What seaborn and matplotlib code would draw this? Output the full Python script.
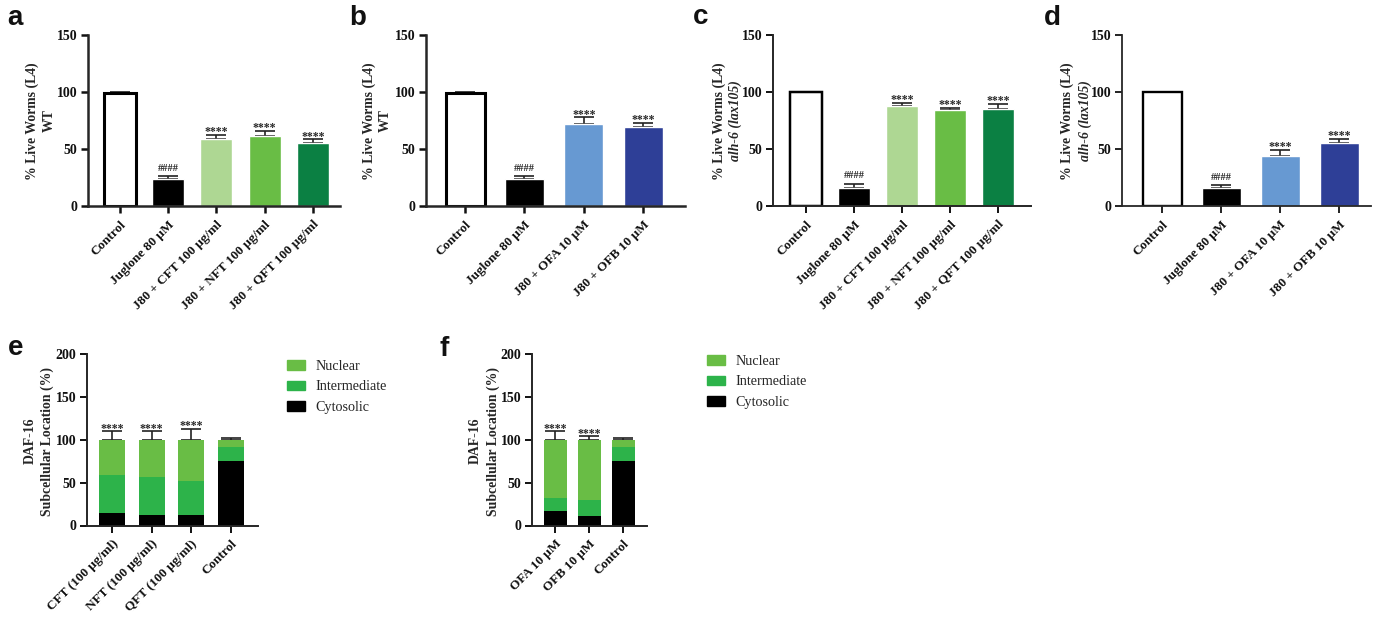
"""Worm survival bars and DAF-16 localisation stacks."""

import matplotlib

matplotlib.use("Agg")

import matplotlib.pyplot as plt
import pandas as pd
import seaborn as sns
from matplotlib.patches import Patch

W, H = 1384, 618

LIGHT_GREEN = "#aed793"
MID_GREEN = "#69bd45"
DARK_GREEN = "#0b8043"
LIGHT_BLUE = "#6799d2"
NAVY = "#2e3f97"
STACK_GREEN = "#2db34a"

green_labels = [
    "Control",
    "Juglone 80 µM",
    "J80 + CFT 100 µg/ml",
    "J80 + NFT 100 µg/ml",
    "J80 + QFT 100 µg/ml",
]
blue_labels = ["Control", "Juglone 80 µM", "J80 + OFA 10 µM", "J80 + OFB 10 µM"]
green_colors = ["white", "black", LIGHT_GREEN, MID_GREEN, DARK_GREEN]
blue_colors = ["white", "black", LIGHT_BLUE, NAVY]
green_marks = ["", "####", "****", "****", "****"]
blue_marks = ["", "####", "****", "****"]

a_values = [99, 24, 59, 61.5, 55]
a_tops = [100, 26, 62.5, 66, 58.5]
b_values = [99, 24, 72, 69]
b_tops = [100, 26, 78, 73]
c_values = [100, 16, 88, 84.5, 85.5]
c_tops = [100, 19.5, 90.5, 86, 89.5]
d_values = [100, 16, 44, 55]
d_tops = [100, 18, 49.5, 59]

e_labels = ["CFT (100 µg/ml)", "NFT (100 µg/ml)", "QFT (100 µg/ml)", "Control"]
e_cytosolic = [15, 12, 12, 75.5]
e_intermediate = [44, 44, 40, 16]
e_nuclear = [41, 44, 48, 8.5]
e_tops = [110, 110, 113, 101.5]
e_marks = ["****", "****", "****", ""]

f_labels = ["OFA 10 µM", "OFB 10 µM", "Control"]
f_cytosolic = [16.5, 10.5, 75.5]
f_intermediate = [16, 19.5, 16]
f_nuclear = [67.5, 70, 8.5]
f_tops = [110, 104, 102]
f_marks = ["****", "****", ""]

sns.set_style("ticks")
plt.rcParams["font.family"] = ["Liberation Serif", "DejaVu Serif"]
plt.rcParams["font.weight"] = "bold"

fig = plt.figure(figsize=(W / 100, H / 100), dpi=100)


def px_axes(x0, x1, y_top, y_bottom):
    return fig.add_axes([x0 / W, 1 - y_bottom / H, (x1 - x0) / W, (y_bottom - y_top) / H])


def style_axes(ax, x0, x1, first, step, ymax, yticks, line):
    ax.set_xlim((x0 - first) / step, (x1 - first) / step)
    ax.set_ylim(0, ymax)
    ax.set_yticks(yticks)
    ax.set_xlabel("")
    ax.set_ylabel("")
    sns.despine(ax=ax)
    for side in ["left", "bottom"]:
        ax.spines[side].set_linewidth(line)
        ax.spines[side].set_zorder(5)
    ax.tick_params(axis="both", length=5, width=line, labelsize=10, pad=2.5, colors="#111111")
    ax.tick_params(axis="x", pad=4, labelsize=9.5)
    for label in ax.get_xticklabels():
        label.set_rotation(45)
        label.set_ha("right")
        label.set_va("top")
        label.set_rotation_mode("anchor")


def add_errors(ax, values, tops, marks):
    xs = list(range(len(values)))
    ups = [t - v for t, v in zip(tops, values)]
    ax.errorbar(
        xs,
        values,
        yerr=[[0] * len(values), ups],
        fmt="none",
        ecolor="#222222",
        elinewidth=1.2,
        capsize=7.2,
        capthick=1.2,
        zorder=1,
    )
    for x, top, mark in zip(xs, tops, marks):
        if mark:
            ax.annotate(
                mark,
                (x, top),
                xytext=(0, 2.5 if mark == "####" else -2.5),
                textcoords="offset points",
                ha="center",
                va="bottom",
                fontsize=7.5 if mark == "####" else 8.5,
            )


def bar_panel(x0, x1, first, step, width_px, labels, values, tops, colors, marks, line):
    ax = px_axes(x0, x1, 35, 206)
    df = pd.DataFrame({"group": labels, "value": values})
    sns.barplot(
        data=df,
        x="group",
        y="value",
        hue="group",
        order=labels,
        hue_order=labels,
        palette=colors,
        saturation=1,
        width=width_px / step,
        legend=False,
        ax=ax,
        zorder=2,
    )
    ax.patches[0].set_edgecolor("black")
    ax.patches[0].set_linewidth(line + 0.4)
    add_errors(ax, values, tops, marks)
    style_axes(ax, x0, x1, first, step, 150, [0, 50, 100, 150], line)
    return ax


def stack_panel(x0, x1, first, step, width_px, labels, cyto, inter, nuc, tops, marks, legend_xy):
    ax = px_axes(x0, x1, 354, 525.5)
    df = pd.DataFrame({"group": labels, "cyto": cyto, "inter": inter, "nuc": nuc})
    df["inter_base"] = df["cyto"]
    df["nuc_base"] = df["cyto"] + df["inter"]
    layers = [("nuc", "nuc_base", MID_GREEN), ("inter", "inter_base", STACK_GREEN), ("cyto", None, "black")]
    for column, base, color in layers:
        sns.barplot(
            data=df,
            x="group",
            y=column,
            order=labels,
            color=color,
            saturation=1,
            width=width_px / step,
            bottom=0 if base is None else df[base].to_numpy(),
            linewidth=0,
            ax=ax,
            zorder=2,
        )
    add_errors(ax, [100] * len(labels), tops, marks)
    style_axes(ax, x0, x1, first, step, 200, [0, 50, 100, 150, 200], 1.4)
    handles = [Patch(color=c) for _, _, c in layers]
    ax.legend(
        handles,
        ["Nuclear", "Intermediate", "Cytosolic"],
        loc="upper left",
        bbox_to_anchor=(legend_xy[0] / W, 1 - legend_xy[1] / H),
        bbox_transform=fig.transFigure,
        frameon=False,
        borderpad=0,
        borderaxespad=0,
        handlelength=1.3,
        handleheight=0.66,
        handletextpad=0.7,
        labelspacing=0.52,
        prop={"family": "Liberation Serif", "weight": "normal", "size": 10.2},
    )
    return ax


def side_text(x, y, text, style="normal"):
    fig.text((x + 2) / W, 1 - y / H, text, rotation=90, ha="center", va="center", fontsize=9.9, style=style)


bar_panel(88, 340, 120, 48.2, 32, green_labels, a_values, a_tops, green_colors, green_marks, 1.8)
bar_panel(426, 685, 465, 59.4, 39, blue_labels, b_values, b_tops, blue_colors, blue_marks, 1.8)
bar_panel(773, 1031, 806, 48, 32, green_labels, c_values, c_tops, green_colors, green_marks, 1.4)
bar_panel(1122, 1371, 1162, 59, 39, blue_labels, d_values, d_tops, blue_colors, blue_marks, 1.3)
stack_panel(87, 258, 112, 39.5, 26, e_labels, e_cytosolic, e_intermediate, e_nuclear, e_tops, e_marks, (287, 360))
stack_panel(532, 647, 555, 34, 23, f_labels, f_cytosolic, f_intermediate, f_nuclear, f_tops, f_marks, (707, 355))

side_text(30, 121, "% Live Worms (L4)")
side_text(47, 121, "WT")
side_text(367, 121, "% Live Worms (L4)")
side_text(383, 121, "WT")
side_text(717, 121, "% Live Worms (L4)")
side_text(733, 121, "alh-6 (lax105)", "italic")
side_text(1065, 121, "% Live Worms (L4)")
side_text(1083, 121, "alh-6 (lax105)", "italic")
side_text(28, 441, "DAF-16")
side_text(45, 441, "Subcellular Location (%)")
side_text(473, 441, "DAF-16")
side_text(491, 441, "Subcellular Location (%)")

panel_letters = ["a", "b", "c", "d", "e", "f"]
letter_x = [7, 349, 693, 1044, 8, 440]
letter_y = [25, 25, 24, 25, 355, 356]
for letter, x, y in zip(panel_letters, letter_x, letter_y):
    fig.text(x / W, 1 - y / H, letter, family="Liberation Sans", weight="bold", fontsize=20, ha="left", va="baseline", color="#111111")

fig.savefig("out.png", dpi=100)
